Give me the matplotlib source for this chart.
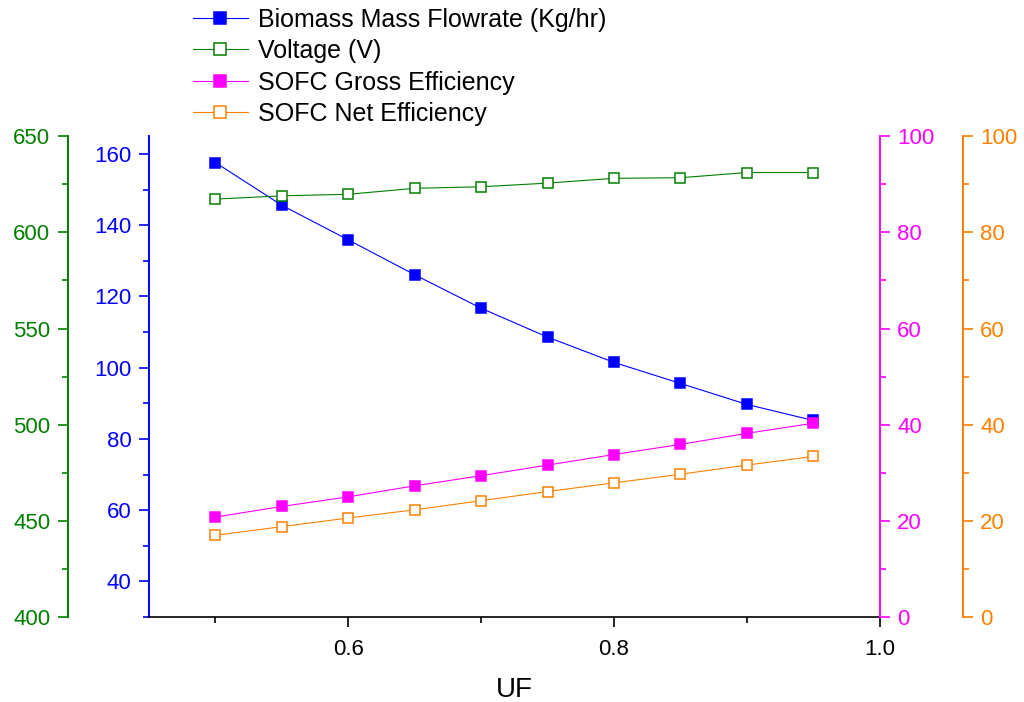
import matplotlib
matplotlib.use("Agg")
import matplotlib.pyplot as plt
from matplotlib.ticker import MultipleLocator

plt.rcParams["font.family"] = ["Liberation Sans", "DejaVu Sans"]

# fuel utilisation factor sweep
uf = [0.50, 0.55, 0.60, 0.65, 0.70, 0.75, 0.80, 0.85, 0.90, 0.95]
biomass_flow = [157.6, 145.6, 135.9, 126.1, 116.7, 108.6, 101.5, 95.6, 89.7, 85.2]
voltage = [617.3, 619.0, 619.8, 622.9, 623.7, 625.6, 628.1, 628.4, 631.1, 631.1]
gross_eff = [20.8, 23.0, 25.0, 27.3, 29.4, 31.6, 33.8, 35.9, 38.2, 40.3]
net_eff = [17.0, 18.8, 20.6, 22.3, 24.2, 26.1, 27.9, 29.7, 31.6, 33.4]

BLUE = "#0000FF"
GREEN = "#008000"
MAGENTA = "#FF00FF"
ORANGE = "#FF8000"

fig = plt.figure(figsize=(10.24, 7.02), dpi=100)
ax = fig.add_axes([0.1455, 0.121, 0.7135, 0.685])
ax_v = ax.twinx()
ax_g = ax.twinx()
ax_n = ax.twinx()

line_kw = dict(linewidth=0.8, marker="s", markersize=7.8, markeredgewidth=1.1)

h1, = ax.plot(uf, biomass_flow, color=BLUE, markerfacecolor=BLUE,
              label="Biomass Mass Flowrate (Kg/hr)", **line_kw)
h2, = ax_v.plot(uf, voltage, color=GREEN, markerfacecolor="white",
                label="Voltage (V)", **line_kw)
h3, = ax_g.plot(uf, gross_eff, color=MAGENTA, markerfacecolor=MAGENTA,
                label="SOFC Gross Efficiency", **line_kw)
h4, = ax_n.plot(uf, net_eff, color=ORANGE, markerfacecolor="white",
                label="SOFC Net Efficiency", **line_kw)

ax.set_xlim(0.45, 1.0)
ax.xaxis.set_major_locator(MultipleLocator(0.2))
ax.xaxis.set_minor_locator(MultipleLocator(0.1))
ax.set_xlabel("UF", fontsize=20, labelpad=12)

ax.set_ylim(30, 165)
ax.yaxis.set_major_locator(MultipleLocator(20))
ax.yaxis.set_minor_locator(MultipleLocator(10))

# voltage axis sits further out on the left (offsets in points)
ax_v.set_ylim(400, 650)
ax_v.yaxis.set_major_locator(MultipleLocator(50))
ax_v.yaxis.set_minor_locator(MultipleLocator(25))
ax_v.yaxis.set_ticks_position("left")
ax_v.yaxis.set_label_position("left")
ax_v.spines["left"].set_visible(True)
ax_v.spines["left"].set_position(("outward", 58.3))
ax_v.spines["right"].set_visible(False)

for a in (ax_g, ax_n):
    a.set_ylim(0, 100)
    a.yaxis.set_major_locator(MultipleLocator(20))
    a.yaxis.set_minor_locator(MultipleLocator(10))
ax_n.spines["right"].set_position(("outward", 59.8))
ax_g.spines["left"].set_visible(False)
ax_n.spines["left"].set_visible(False)

for a in (ax, ax_v, ax_g, ax_n):
    a.spines["top"].set_visible(False)
    a.set_facecolor("none")
    a.tick_params(which="major", length=7.2, width=1.2, labelsize=16, pad=5.5)
    a.tick_params(which="minor", length=4.3, width=1.2)
for a in (ax_v, ax_g, ax_n):
    a.spines["bottom"].set_visible(False)
ax.spines["right"].set_visible(False)
ax.spines["bottom"].set_linewidth(1.2)
ax.tick_params(axis="x", colors="black", pad=8.5)

for a, spine, c in ((ax, "left", BLUE), (ax_v, "left", GREEN),
                    (ax_g, "right", MAGENTA), (ax_n, "right", ORANGE)):
    a.spines[spine].set_color(c)
    a.spines[spine].set_linewidth(1.4)
    a.tick_params(axis="y", which="both", colors=c)

fig.legend(handles=[h1, h2, h3, h4], loc="upper left",
           bbox_to_anchor=(0.171, 1.014), frameon=False, fontsize=18,
           handlelength=2.2, handletextpad=0.4, labelspacing=0.3,
           borderpad=0.2, markerscale=1.1)

fig.savefig("out.png", dpi=100)
